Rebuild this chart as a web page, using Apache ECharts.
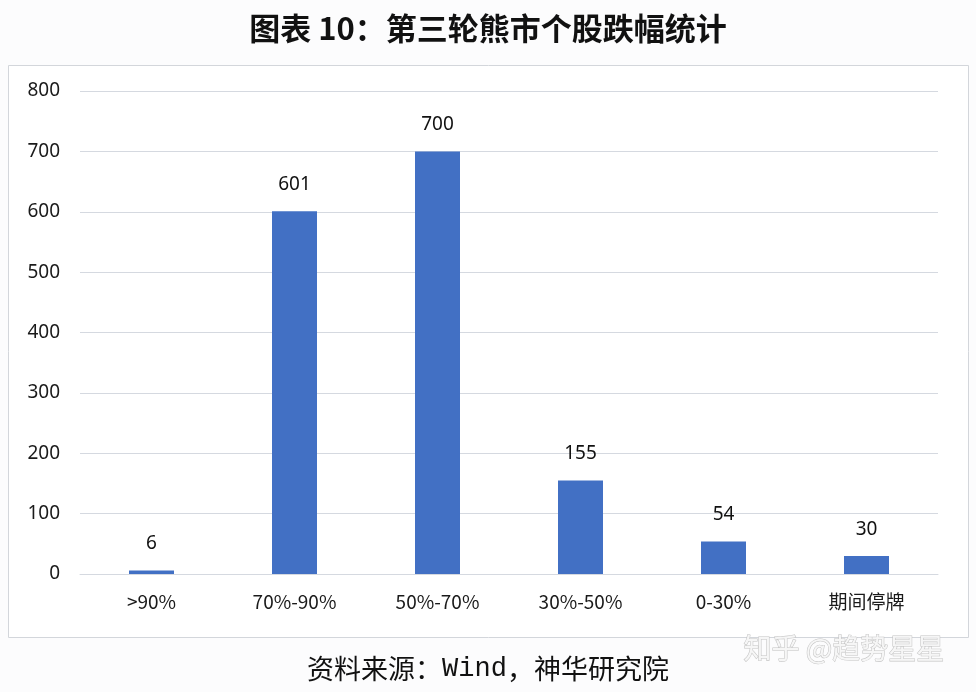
<!DOCTYPE html>
<html><head><meta charset="utf-8">
<script src="https://cdn.jsdelivr.net/npm/echarts@6/dist/echarts.min.js"></script>
<style>html,body{margin:0;padding:0;background:#fcfcfd}#c{width:976px;height:692px}</style>
</head><body><div id="c"></div>
<script>
const titleText = '图表 10：第三轮熊市个股跌幅统计';
const categories = ['>90%', '70%-90%', '50%-70%', '30%-50%', '0-30%', '期间停牌'];
const counts = [6, 601, 700, 155, 54, 30];
const yTicks = {min: 0, max: 800, interval: 100};
const sourceParts = ['资料来源：', 'Wind', '，神华研究院'];
const watermark = '知乎 @趋势星星';

const chart = echarts.init(document.getElementById('c'), null, {renderer: 'canvas'});
const cjk = '"Noto Sans CJK SC", "Noto Sans", sans-serif';
chart.setOption({
  backgroundColor: '#fcfcfd',
  animation: false,
  title: {
    text: titleText, left: 'center', top: 8,
    textStyle: {fontFamily: cjk, fontWeight: 'bold', fontSize: 31, color: '#111'}
  },
  graphic: [
    {type: 'rect', z: -1, shape: {x: 8.5, y: 65.5, width: 960, height: 572},
     style: {fill: '#ffffff', stroke: '#d3d6db', lineWidth: 1}},
    {type: 'text', left: 'center', top: 655,
     style: {text: '{a|' + sourceParts[0] + '}{b|' + sourceParts[1] + '}{a|' + sourceParts[2] + '}',
       rich: {a: {fontFamily: cjk, fontSize: 27, fill: '#111', color: '#111'},
              b: {fontFamily: '"Liberation Mono", monospace', fontSize: 27, fill: '#111', color: '#111'}}}},
    {type: 'text', left: 743, top: 634,
     style: {text: watermark, fontFamily: cjk, fontSize: 28, fill: '#f6f6f6',
       stroke: '#c4c4c4', lineWidth: 1.1}}
  ],
  grid: {left: 80, right: 38, top: 91, bottom: 118},
  xAxis: {
    type: 'category', data: categories,
    axisLine: {lineStyle: {color: '#d5d9e0', width: 1}},
    axisTick: {show: false},
    axisLabel: {fontFamily: '"Noto Sans CJK SC", sans-serif', fontSize: 19, color: '#1a1a1a', margin: 18}
  },
  yAxis: {
    type: 'value', min: yTicks.min, max: yTicks.max, interval: yTicks.interval,
    axisLine: {show: false}, axisTick: {show: false},
    splitLine: {lineStyle: {color: '#d5d9e0', width: 1}},
    axisLabel: {fontFamily: '"Noto Sans", sans-serif', fontSize: 19, color: '#1a1a1a', margin: 20}
  },
  series: [{
    type: 'bar', data: counts, barWidth: 45,
    itemStyle: {color: '#4270c4'},
    label: {show: true, position: 'top', distance: 17, fontFamily: '"Noto Sans", sans-serif',
      fontSize: 19, color: '#111'}
  }]
});
</script></body></html>
